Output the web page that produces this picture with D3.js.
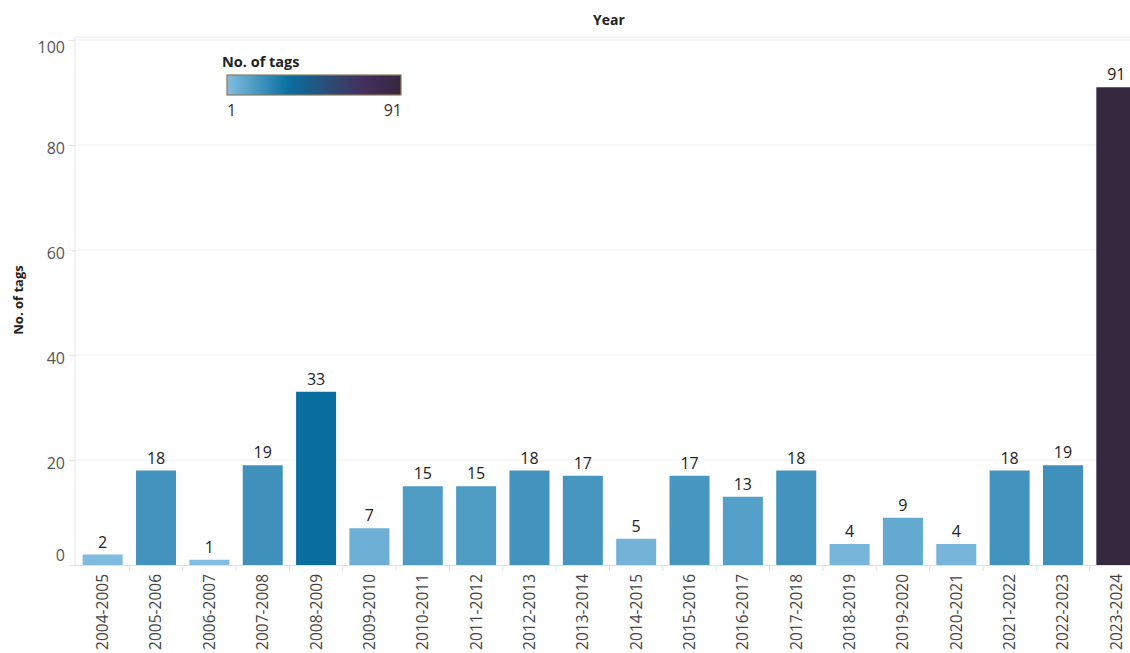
<!DOCTYPE html>
<html>
<head>
<meta charset="utf-8">
<script src="https://cdn.jsdelivr.net/npm/d3@7"></script>
<style>
  html, body { margin: 0; padding: 0; background: #fff; }
  svg { display: block; font-family: "Open Sans", "Noto Sans", sans-serif; }
</style>
</head>
<body>
<svg id="chart" width="1130" height="653"></svg>
<script>
// Tags recorded per academic year
const years = ["2004-2005","2005-2006","2006-2007","2007-2008","2008-2009","2009-2010",
  "2010-2011","2011-2012","2012-2013","2013-2014","2014-2015","2015-2016","2016-2017",
  "2017-2018","2018-2019","2019-2020","2020-2021","2021-2022","2022-2023","2023-2024"];
const tags = [2, 18, 1, 19, 33, 7, 15, 15, 18, 17, 5, 17, 13, 18, 4, 9, 4, 18, 19, 91];
const yTicks = [0, 20, 40, 60, 80, 100];

// Sequential palette: light blue -> deep teal-blue -> dark purple
const colorStops = [1, 33, 55, 72, 91];
const colorRange = ["#82bde0", "#0a6fa0", "#2d4a73", "#452e5d", "#35283f"];

const svg = d3.select("#chart");
const W = 1130, H = 653;
const plotLeft = 75, plotTop = 40, plotBottom = 565;

const x = d3.scaleBand().domain(years).range([plotLeft + 1, plotLeft + 1 + 20 * 53.35]).paddingInner(0.25).paddingOuter(0.125);
const y = d3.scaleLinear().domain([0, 100]).range([plotBottom, plotTop]);
const color = d3.scaleLinear().domain(colorStops).range(colorRange).interpolate(d3.interpolateRgb);

// Header strip with the column field name
svg.append("text").attr("x", 609).attr("y", 25).attr("text-anchor", "middle")
  .attr("font-size", 14).attr("font-weight", "bold").attr("fill", "#222").text("Year");
svg.append("line").attr("x1", plotLeft).attr("x2", W).attr("y1", 37).attr("y2", 37)
  .attr("stroke", "#ececec");

// Gridlines
svg.append("g").selectAll("line").data(yTicks.filter(d => d > 0)).join("line")
  .attr("x1", plotLeft).attr("x2", W).attr("y1", d => y(d)).attr("y2", d => y(d))
  .attr("stroke", "#efefef");

// Left pane border and baseline
svg.append("line").attr("x1", plotLeft).attr("x2", plotLeft).attr("y1", 37).attr("y2", plotBottom)
  .attr("stroke", "#e6e6e6");
svg.append("line").attr("x1", plotLeft).attr("x2", W).attr("y1", plotBottom + 0.5).attr("y2", plotBottom + 0.5)
  .attr("stroke", "#e0e0e0");

// Y axis
const yAxis = d3.axisLeft(y).tickValues(yTicks).tickSize(0).tickPadding(10);
const gy = svg.append("g").attr("transform", `translate(${plotLeft},0)`).call(yAxis);
gy.select(".domain").remove();
gy.selectAll("text").attr("font-size", 16).attr("fill", "#555")
  .attr("font-family", "'Open Sans', sans-serif")
  .attr("dy", d => d === 100 ? "0.8em" : d === 0 ? "-0.3em" : "0.5em");
gy.selectAll(".tick").append("line").attr("x1", -6).attr("x2", 0).attr("stroke", "#e6e6e6");

svg.append("text").attr("transform", "translate(23,300) rotate(-90)").attr("text-anchor", "middle")
  .attr("font-size", 13).attr("font-weight", "bold").attr("fill", "#222").text("No. of tags");

// X axis: category separators and rotated labels
const sep = svg.append("g");
years.forEach((yr, i) => {
  if (i === 0) return;
  const xs = x(yr) - x.step() * x.paddingInner() / 2;
  sep.append("line").attr("x1", xs).attr("x2", xs).attr("y1", plotBottom).attr("y2", plotBottom + 6)
    .attr("stroke", "#e0e0e0");
});
const xAxis = d3.axisBottom(x).tickSize(0).tickPadding(0);
const gx = svg.append("g").attr("transform", `translate(0,${plotBottom})`).call(xAxis);
gx.select(".domain").remove();
gx.selectAll("text").attr("font-size", 15.5).attr("fill", "#444")
  .attr("font-family", "'Open Sans', sans-serif")
  .attr("transform", "rotate(-90)").attr("text-anchor", "end")
  .attr("x", -9).attr("y", 0).attr("dy", "0.35em");

// Bars
svg.append("g").selectAll("rect").data(years).join("rect")
  .attr("x", d => x(d)).attr("width", x.bandwidth())
  .attr("y", (d, i) => y(tags[i])).attr("height", (d, i) => y(0) - y(tags[i]))
  .attr("fill", (d, i) => color(tags[i]));

// Value labels
svg.append("g").selectAll("text").data(years).join("text")
  .attr("x", d => x(d) + x.bandwidth() / 2).attr("y", (d, i) => y(tags[i]) - 7)
  .attr("text-anchor", "middle").attr("font-size", 16).attr("fill", "#222")
  .text((d, i) => tags[i]);

// Colour legend
const defs = svg.append("defs");
const grad = defs.append("linearGradient").attr("id", "legendGrad");
colorStops.forEach((v, i) => {
  grad.append("stop").attr("offset", (v - 1) / 90).attr("stop-color", colorRange[i]);
});
const lg = svg.append("g");
lg.append("text").attr("x", 222).attr("y", 67).attr("font-size", 14.5).attr("font-weight", "bold")
  .attr("fill", "#222").text("No. of tags");
lg.append("rect").attr("x", 227).attr("y", 75).attr("width", 174).attr("height", 20)
  .attr("fill", "url(#legendGrad)").attr("stroke", "#8b7b5e").attr("stroke-width", 1.2);
lg.append("text").attr("x", 227).attr("y", 116).attr("font-size", 16).attr("fill", "#333").text("1");
lg.append("text").attr("x", 402).attr("y", 116).attr("text-anchor", "end").attr("font-size", 16)
  .attr("fill", "#333").text("91");
</script>
</body>
</html>
